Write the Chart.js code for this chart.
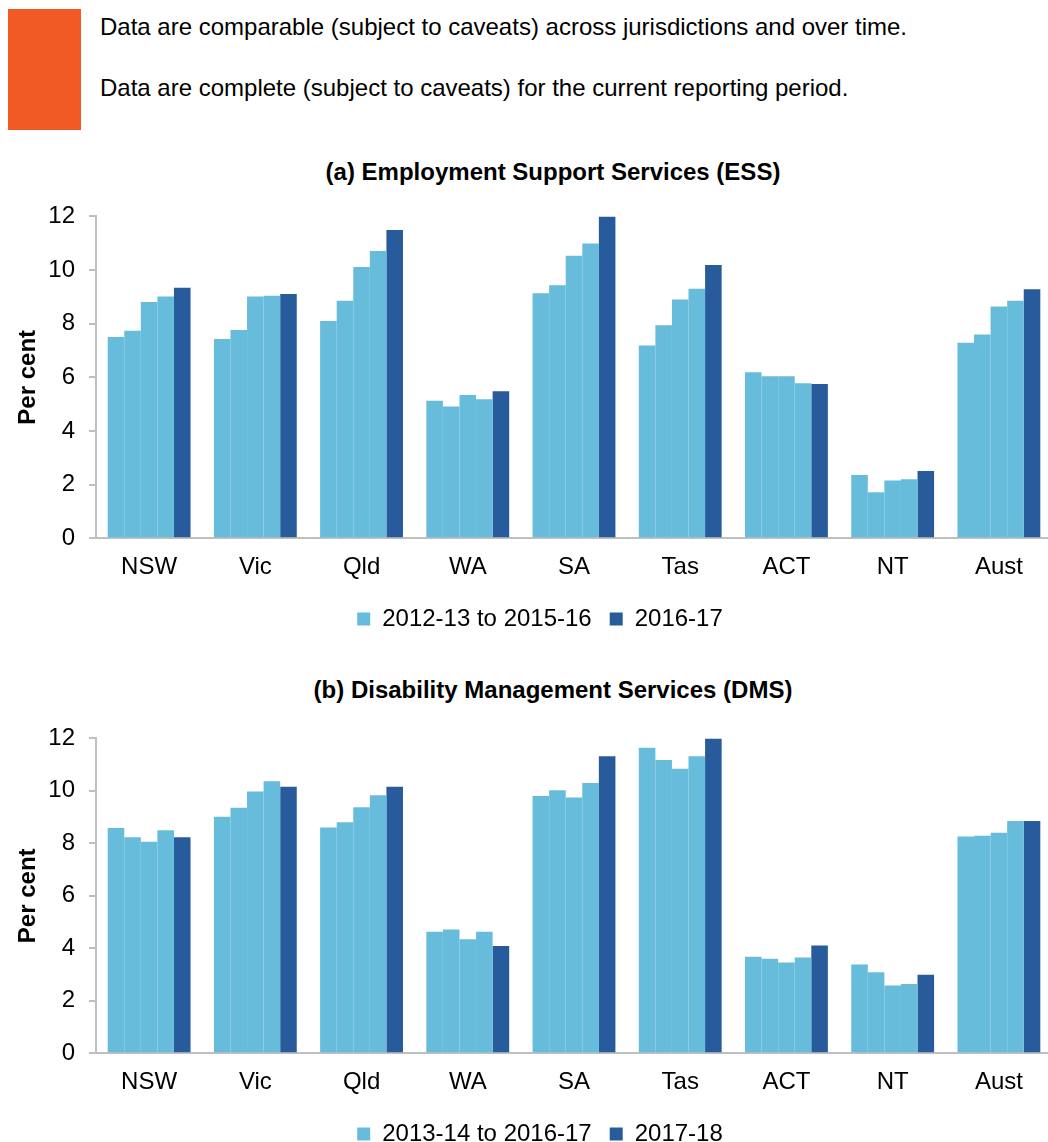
<!DOCTYPE html>
<html>
<head>
<meta charset="utf-8">
<script src="https://cdn.jsdelivr.net/npm/chart.js@4"></script>
<style>
  html, body { margin: 0; padding: 0; background: #fff; overflow: hidden; }
  body { width: 1048px; height: 1142px; position: relative; font-family: "Liberation Sans", Arial, sans-serif; color: #000; }
  .flag { position: absolute; left: 8px; top: 9px; width: 73px; height: 121px; background: #F15A24; }
  .note { position: absolute; left: 100px; font-size: 24px; line-height: 28px; white-space: nowrap; }
  .title { position: absolute; left: 253px; width: 600px; text-align: center; font-size: 24px; font-weight: bold; line-height: 28px; white-space: nowrap; }
  .box { position: absolute; left: 0; width: 1056px; }
</style>
</head>
<body>
<div class="flag"></div>
<div class="note" style="top:13px">Data are comparable (subject to caveats) across jurisdictions and over time.</div>
<div class="note" style="top:74px">Data are complete (subject to caveats) for the current reporting period.</div>

<div class="title" style="top:158px">(a) Employment Support Services (ESS)</div>
<div class="box" style="top:188px; height:453px"><canvas id="essChart"></canvas></div>

<div class="title" style="top:676px">(b) Disability Management Services (DMS)</div>
<div class="box" style="top:710px; height:446px"><canvas id="dmsChart"></canvas></div>

<script>
var jurisdictions = ['NSW', 'Vic', 'Qld', 'WA', 'SA', 'Tas', 'ACT', 'NT', 'Aust'];
var yTicks = [0, 2, 4, 6, 8, 10, 12];

// (a) ESS
var essYears = ['2012-13', '2013-14', '2014-15', '2015-16', '2016-17'];
var ess1213 = [7.5, 7.43, 8.1, 5.13, 9.13, 7.19, 6.19, 2.36, 7.29];
var ess1314 = [7.74, 7.76, 8.85, 4.91, 9.43, 7.94, 6.04, 1.71, 7.6];
var ess1415 = [8.81, 9.01, 10.11, 5.34, 10.53, 8.9, 6.04, 2.15, 8.64];
var ess1516 = [9.01, 9.04, 10.71, 5.18, 10.99, 9.3, 5.78, 2.2, 8.85];
var ess1617 = [9.34, 9.11, 11.49, 5.48, 12.0, 10.19, 5.75, 2.51, 9.28];
var essLegend = ['2012-13 to 2015-16', '2016-17'];

// (b) DMS
var dmsYears = ['2013-14', '2014-15', '2015-16', '2016-17', '2017-18'];
var dms1314 = [8.58, 9.01, 8.6, 4.63, 9.8, 11.64, 3.68, 3.38, 8.26];
var dms1415 = [8.23, 9.36, 8.8, 4.72, 10.02, 11.18, 3.6, 3.09, 8.29];
var dms1516 = [8.06, 9.98, 9.38, 4.34, 9.75, 10.84, 3.46, 2.58, 8.4];
var dms1617 = [8.5, 10.37, 9.83, 4.63, 10.3, 11.32, 3.65, 2.64, 8.85];
var dms1718 = [8.23, 10.16, 10.16, 4.09, 11.32, 12.0, 4.11, 2.99, 8.85];
var dmsLegend = ['2013-14 to 2016-17', '2017-18'];

var lightBlue = '#67BCDB';
var darkBlue = '#285B9B';
var axisGrey = '#BFBFBF';

Chart.defaults.font.family = '"Liberation Sans", Arial, sans-serif';
Chart.defaults.color = '#000';

// nudge the legend a bit right, as in the original
var legendShift = {
    id: 'legendShift',
    afterLayout: function (chart) {
        chart.legend.left += 14;
        chart.legend.right += 14;
    }
};

function makeChart(id, years, series, legendText) {
    var datasets = series.map(function (values, i) {
        var last = i === series.length - 1;
        return {
            label: years[i],
            data: values,
            backgroundColor: last ? darkBlue : lightBlue,
            borderWidth: 0,
            categoryPercentage: 0.78,
            barPercentage: 1.0
        };
    });

    return new Chart(document.getElementById(id).getContext('2d'), {
        type: 'bar',
        data: { labels: jurisdictions, datasets: datasets },
        plugins: [legendShift],
        options: {
            responsive: true,
            maintainAspectRatio: false,
            animation: false,
            layout: { padding: { top: 17, left: 0, right: 4, bottom: 0 } },
            scales: {
                x: {
                    grid: { display: false },
                    border: { color: axisGrey, width: 2 },
                    ticks: { font: { size: 24 }, padding: 7, maxRotation: 0 }
                },
                y: {
                    min: 0,
                    max: 12,
                    afterBuildTicks: function (scale) {
                        scale.ticks = yTicks.map(function (v) { return { value: v }; });
                    },
                    afterFit: function (scale) { scale.width = 96; },
                    grid: { drawOnChartArea: false, drawTicks: true, tickLength: 7, color: axisGrey, lineWidth: 2 },
                    border: { color: axisGrey, width: 2 },
                    ticks: { font: { size: 24 }, padding: 14 },
                    title: {
                        display: true,
                        text: 'Per cent',
                        font: { size: 24, weight: 'bold' },
                        padding: { top: 14, bottom: 0 }
                    }
                }
            },
            plugins: {
                legend: {
                    position: 'bottom',
                    labels: {
                        boxWidth: 13,
                        boxHeight: 13,
                        padding: 18,
                        font: { size: 24 },
                        generateLabels: function (chart) {
                            var n = chart.data.datasets.length;
                            return [0, n - 1].map(function (idx, k) {
                                var ds = chart.data.datasets[idx];
                                return {
                                    text: legendText[k],
                                    fillStyle: ds.backgroundColor,
                                    strokeStyle: ds.backgroundColor,
                                    lineWidth: 0,
                                    datasetIndex: idx,
                                    hidden: false
                                };
                            });
                        }
                    }
                },
                tooltip: { enabled: false }
            }
        }
    });
}

makeChart('essChart', essYears, [ess1213, ess1314, ess1415, ess1516, ess1617], essLegend);
makeChart('dmsChart', dmsYears, [dms1314, dms1415, dms1516, dms1617, dms1718], dmsLegend);
</script>
</body>
</html>
